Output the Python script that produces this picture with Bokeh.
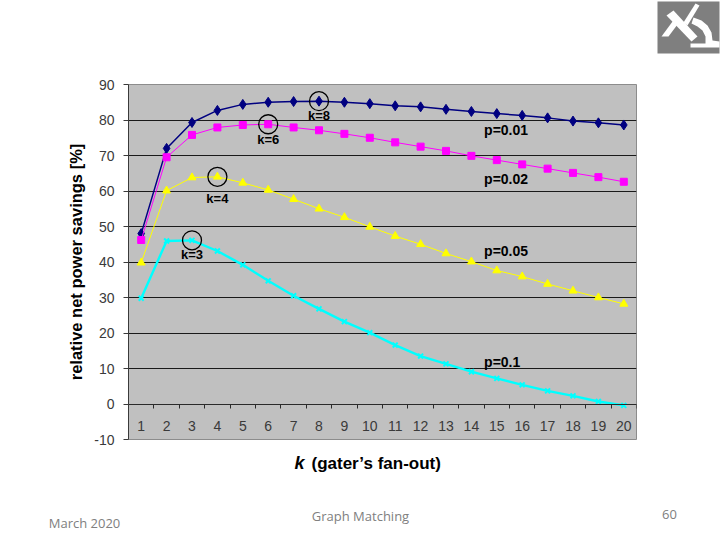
from bokeh.plotting import figure
from bokeh.layouts import column, row
from bokeh.models import Range1d, LinearAxis, FixedTicker, Label, Grid
from bokeh.embed import file_html
from bokeh.resources import INLINE

# ---------------- data ----------------
k = list(range(1, 21))
p001 = [48.0, 72.0, 79.3, 82.7, 84.4, 85.0, 85.2, 85.3, 85.0, 84.6,
        84.0, 83.7, 83.0, 82.4, 81.8, 81.3, 80.6, 79.7, 79.2, 78.6]
p002 = [46.2, 69.5, 75.8, 77.9, 78.6, 78.8, 77.9, 77.1, 76.1, 75.0,
        73.7, 72.5, 71.3, 69.9, 68.7, 67.5, 66.3, 65.1, 63.9, 62.6]
p005 = [39.8, 60.1, 63.8, 64.0, 62.3, 60.3, 57.7, 55.0, 52.6, 49.9,
        47.3, 45.0, 42.4, 40.1, 37.6, 35.9, 33.8, 31.9, 30.0, 28.2]
p01 = [29.8, 45.9, 46.1, 43.1, 39.2, 34.7, 30.5, 26.8, 23.2, 20.1,
       16.6, 13.5, 11.3, 9.1, 7.2, 5.4, 3.7, 2.3, 0.7, -0.4]
series_names = ["p=0.01", "p=0.02", "p=0.05", "p=0.1"]
opt_k = [8, 6, 4, 3]
y_ticks = list(range(-10, 91, 10))
y_tick_labels = [str(v) for v in y_ticks]
x_tick_labels = [str(v) for v in k]
x_title = "(gater\u2019s fan-out)"
y_title = "relative net power savings [%]"
footer_texts = ["March 2020", "Graph Matching", "60"]

FONT = "Liberation Sans"
W = 720
TOP_H = 55                 # strip holding the logo
MAIN_H = 452 - TOP_H       # chart figure
FOOT_H = 540 - 452         # x title + slide footer
FL, FR = 128, W - 636
FT, FB = 84 - TOP_H, 452 - 439


def bare(width, height, xr, yr):
    f = figure(width=width, height=height, x_range=xr, y_range=yr,
               output_backend="svg", toolbar_location=None,
               x_axis_location=None, y_axis_location=None,
               min_border=0, min_border_left=0, min_border_right=0,
               min_border_top=0, min_border_bottom=0)
    f.grid.visible = False
    f.outline_line_color = None
    f.background_fill_color = "white"
    f.border_fill_color = "white"
    return f


# ---------------- main chart ----------------
p = figure(width=W, height=MAIN_H, x_range=Range1d(0.5, 20.5), y_range=Range1d(-10, 90),
           output_backend="svg", toolbar_location=None,
           x_axis_location=None, y_axis_location=None,
           min_border_left=FL, min_border_right=FR, min_border_top=FT, min_border_bottom=FB)
p.grid.visible = False
p.background_fill_color = "#C0C0C0"
p.border_fill_color = "white"
p.outline_line_color = "#8c8c8c"

p.add_layout(Grid(dimension=1, ticker=FixedTicker(ticks=y_ticks[1:-1]),
                  grid_line_color="#1a1a1a", grid_line_width=1))

yax = LinearAxis(ticker=FixedTicker(ticks=y_ticks), axis_label=y_title,
                 major_label_overrides={v: s for v, s in zip(y_ticks, y_tick_labels)},
                 axis_label_text_font=FONT, axis_label_text_font_size="16.5px",
                 axis_label_text_font_style="bold", axis_label_text_color="black",
                 axis_label_standoff=6,
                 major_label_text_font=FONT, major_label_text_font_size="14px",
                 major_label_text_color="#3a3a3a", major_label_standoff=9,
                 major_tick_out=5, major_tick_in=0, minor_tick_out=0, minor_tick_in=0,
                 axis_line_color="#3a3a3a", major_tick_line_color="#3a3a3a")
p.add_layout(yax, "left")

# category axis drawn on the 0 line: labels at k, small ticks between categories
xax = LinearAxis(fixed_location=0,
                 ticker=FixedTicker(ticks=k, minor_ticks=[v - 0.5 for v in k] + [k[-1] + 0.5]),
                 major_label_overrides={v: s for v, s in zip(k, x_tick_labels)},
                 major_tick_out=0, major_tick_in=0, minor_tick_out=4, minor_tick_in=0,
                 axis_line_color="#2a2a2a", minor_tick_line_color="#2a2a2a",
                 major_label_standoff=13,
                 major_label_text_font=FONT, major_label_text_font_size="14px",
                 major_label_text_color="#3a3a3a")
p.add_layout(xax, "below")

styles = [
    dict(color="#000080", marker="diamond", size=10, lw=1.5),
    dict(color="#FF00FF", marker="square", size=7, lw=1),
    dict(color="#FFFF00", marker="triangle", size=8, lw=1),
    dict(color="#00FFFF", marker="x", size=7, lw=2.4),
]
all_series = [p001, p002, p005, p01]
for ys, st in zip(all_series, styles):
    p.line(k, ys, line_color=st["color"], line_width=st["lw"])
    p.scatter(k, ys, marker=st["marker"], size=st["size"], fill_color=st["color"],
              line_color=st["color"], line_width=2 if st["marker"] == "x" else 1)

opt_vals = [ys[kk - 1] for ys, kk in zip(all_series, opt_k)]
p.scatter(opt_k, opt_vals, marker="circle", size=19, fill_color=None,
          line_color="black", line_width=1.3)
k_offsets = [-4.1, -4.2, -6.2, -4.0]
for kk, vv, off in zip(opt_k, opt_vals, k_offsets):
    p.add_layout(Label(x=kk, y=vv + off, text=f"k={kk}", text_align="center",
                       text_baseline="middle", text_font=FONT, text_font_size="13px",
                       text_font_style="bold", text_color="black"))

p_offsets = [-4.5, -5.2, 5.4, 4.6]
for name, ys, off in zip(series_names, all_series, p_offsets):
    p.add_layout(Label(x=14.5, y=ys[14] + off, text=name, text_align="left",
                       text_baseline="middle", text_font=FONT, text_font_size="14px",
                       text_font_style="bold", text_color="black"))

# ---------------- logo strip (top right, decoration) ----------------
logo = bare(W, TOP_H, Range1d(0, W), Range1d(TOP_H, 0))
logo.patches(
    xs=[[657, 719, 719, 657],
        [666, 673, 697, 691],
        [661, 668, 680, 675],
        [683, 687, 699, 695],
        [693, 701, 707, 711, 712, 719, 719, 690, 690, 705, 705, 702, 697, 691]],
    ys=[[1, 1, 53, 53],
        [15, 10, 36, 41],
        [36, 36, 20, 17],
        [22, 25, 5, 3],
        [17, 20, 25, 32, 40, 41, 47, 47, 43, 43, 36, 30, 26, 23]],
    fill_color=["#7f7f7f", "white", "white", "white", "white"], line_color=None)

# ---------------- footer: x title + slide footer ----------------
Y0 = 452
foot = bare(W, FOOT_H, Range1d(0, W), Range1d(540, Y0))
foot.add_layout(Label(x=294, y=462, text="k", text_align="left", text_baseline="middle",
                      text_font=FONT, text_font_size="18px", text_font_style="bold italic",
                      text_color="black"))
foot.add_layout(Label(x=311, y=463, text=x_title, text_align="left", text_baseline="middle",
                      text_font=FONT, text_font_size="17px", text_font_style="bold",
                      text_color="black"))
for txt, px, py in zip(footer_texts, [84, 360, 669], [522, 515, 514]):
    foot.add_layout(Label(x=px, y=py, text=txt, text_align="center", text_baseline="middle",
                          text_font="Open Sans", text_font_size="13px", text_color="#808080"))

layout = column(row(logo), row(p), row(foot), spacing=0)
open("out.html", "w").write(file_html(layout, INLINE))
